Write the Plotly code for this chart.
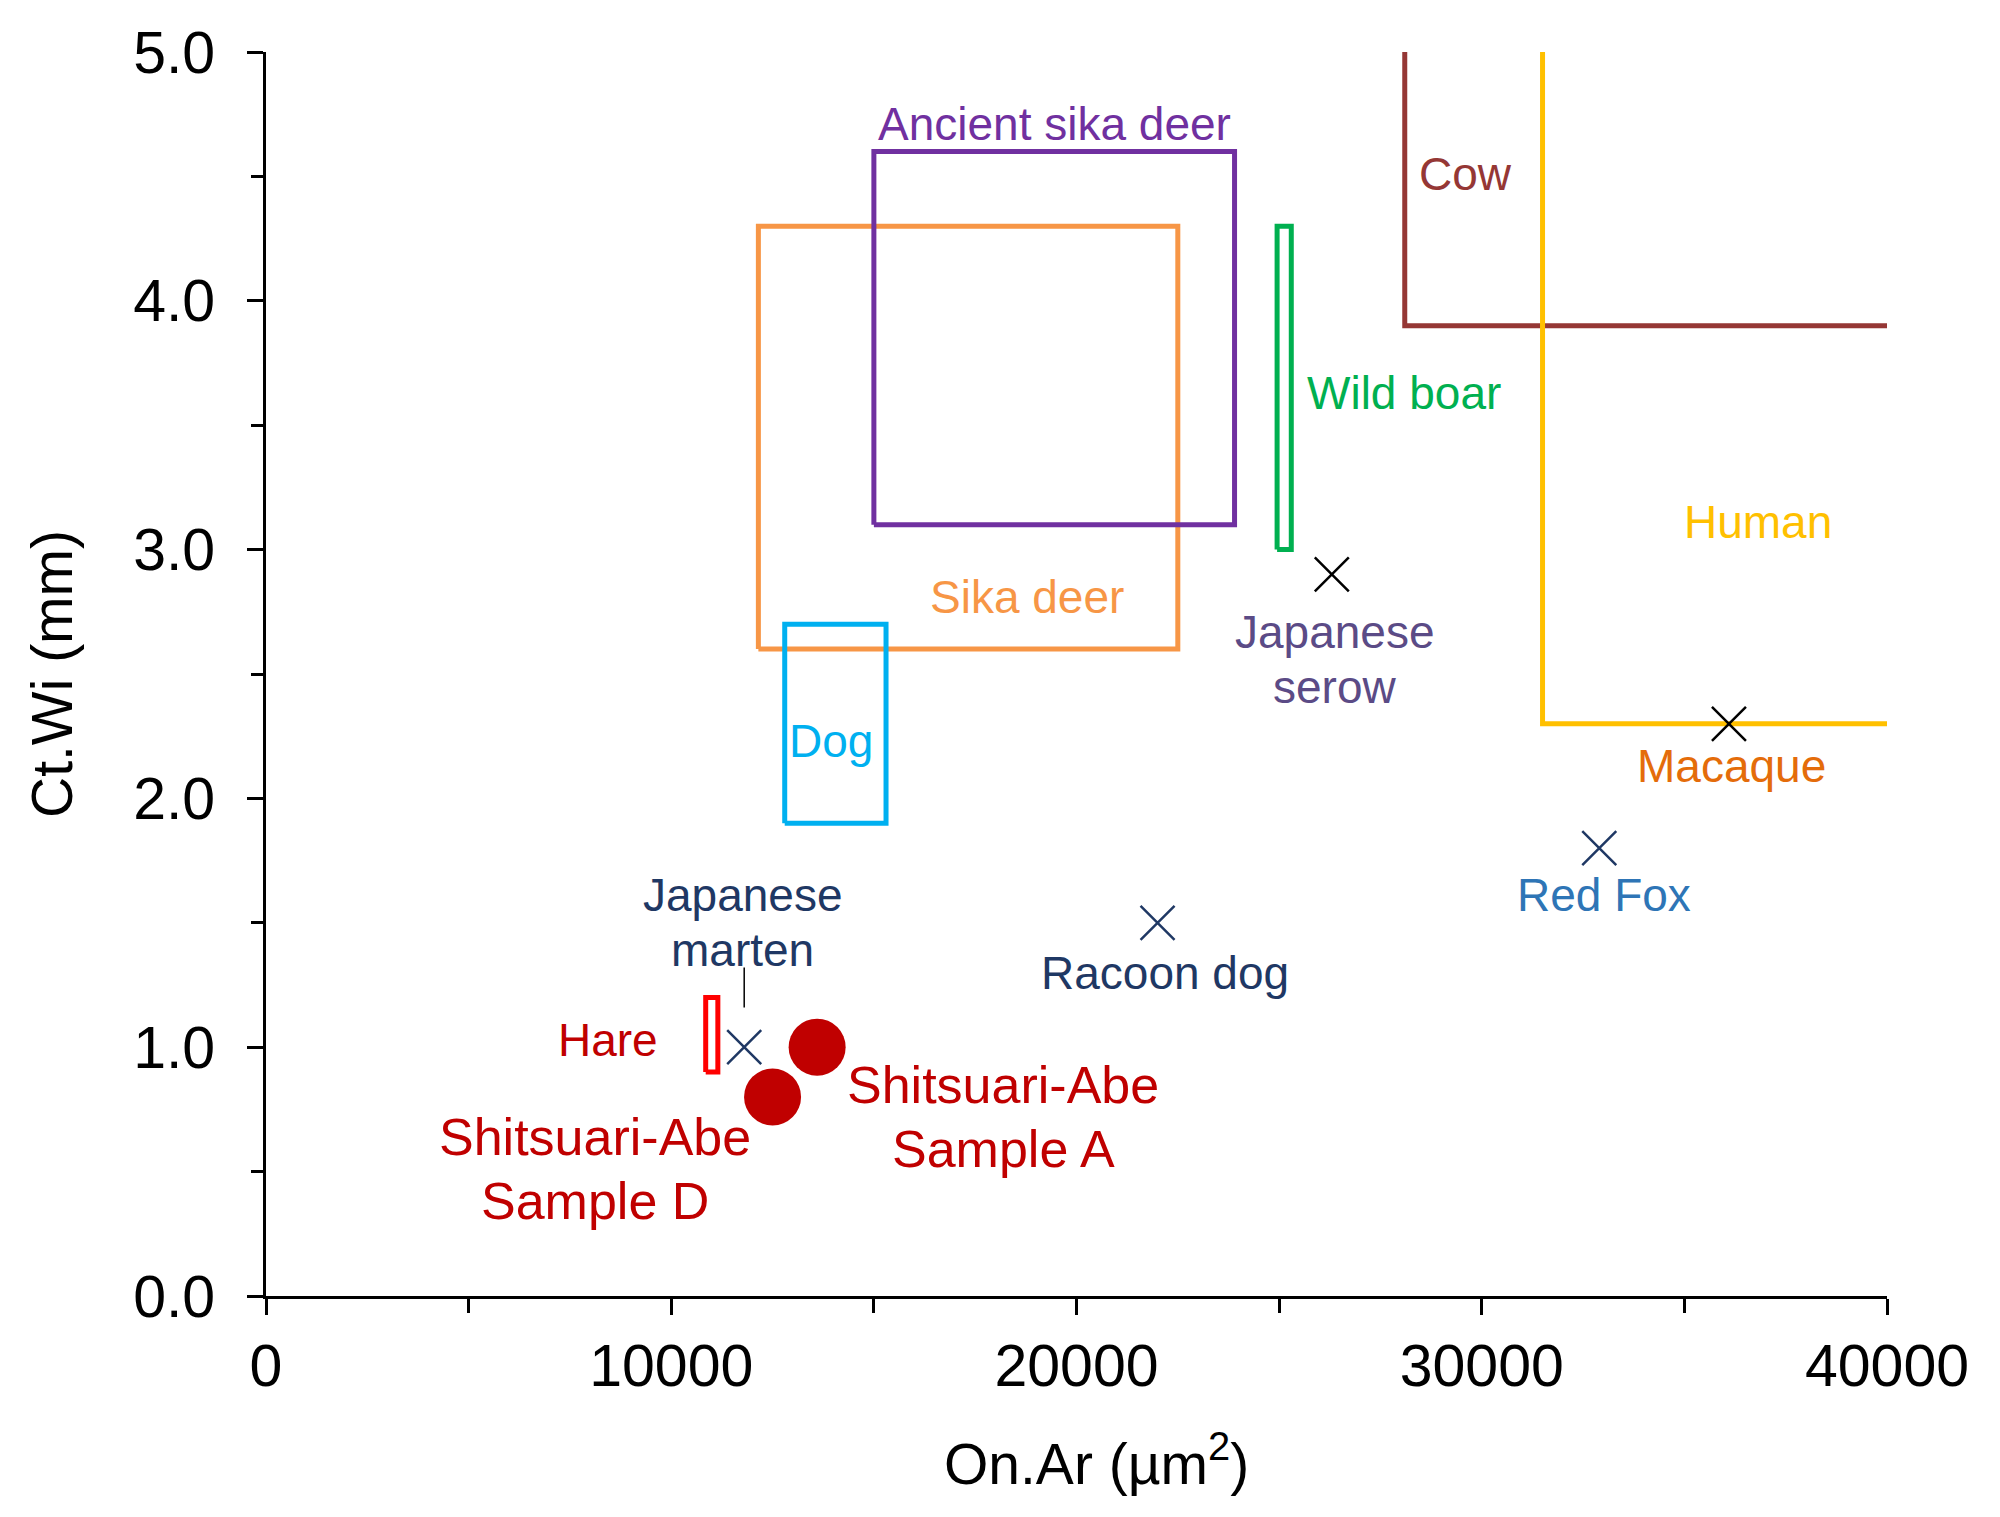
import plotly.graph_objects as go

# ---------------- data ----------------
# rectangular ranges: name, x0, x1, y0, y1
box_names = ["Sika deer", "Ancient sika deer", "Wild boar", "Dog", "Hare"]
box_x0 = [12150, 15000, 24950, 12800, 10850]
box_x1 = [22500, 23900, 25300, 15300, 11150]
box_y0 = [2.6, 3.1, 3.0, 1.9, 0.9]
box_y1 = [4.3, 4.6, 4.3, 2.7, 1.2]

# open-ended ranges (extend to axis limits): name, x_min, y_min
open_names = ["Cow", "Human"]
open_xmin = [28100, 31500]
open_ymin = [3.9, 2.3]

# single species values (x marks)
pt_names = ["Japanese serow", "Macaque", "Red Fox", "Racoon dog", "Japanese marten"]
pt_x = [26300, 36100, 32900, 22000, 11800]
pt_y = [2.9, 2.3, 1.8, 1.5, 1.0]

# Shitsuari-Abe samples
smp_names = ["Sample A", "Sample D"]
smp_x = [13600, 12500]
smp_y = [1.0, 0.8]

x_range = [0, 40000]
y_range = [0, 5]
x_ticks = [0, 10000, 20000, 30000, 40000]
y_ticks = [0.0, 1.0, 2.0, 3.0, 4.0, 5.0]

# ---------------- styles ----------------
box_colors = ["#F79646", "#7030A0", "#00B050", "#00B0F0", "#FF0000"]
open_colors = ["#953735", "#FFC000"]
pt_colors = ["#000000", "#000000", "#1F3864", "#1F3864", "#1F3864"]

FONT = "Liberation Sans, Arial, sans-serif"

fig = go.Figure()

for i, n in enumerate(box_names):
    fig.add_trace(go.Scatter(
        x=[box_x0[i], box_x1[i], box_x1[i], box_x0[i], box_x0[i]],
        y=[box_y0[i], box_y0[i], box_y1[i], box_y1[i], box_y0[i]],
        mode="lines", line=dict(color=box_colors[i], width=5),
        name=n, showlegend=False, cliponaxis=False, hoverinfo="skip"))

for i, n in enumerate(open_names):
    fig.add_trace(go.Scatter(
        x=[open_xmin[i], open_xmin[i], x_range[1]],
        y=[y_range[1], open_ymin[i], open_ymin[i]],
        mode="lines", line=dict(color=open_colors[i], width=5),
        name=n, showlegend=False, cliponaxis=False, hoverinfo="skip"))

fig.add_trace(go.Scatter(
    x=pt_x, y=pt_y, mode="markers",
    marker=dict(symbol="x-thin", size=34, color=pt_colors,
                line=dict(width=2.5, color=pt_colors)),
    showlegend=False, cliponaxis=False, hoverinfo="skip"))

fig.add_trace(go.Scatter(
    x=smp_x, y=smp_y, mode="markers",
    marker=dict(symbol="circle", size=57, color="#C00000", line=dict(width=0)),
    showlegend=False, cliponaxis=False, hoverinfo="skip"))

# leader line for Japanese marten label
fig.add_trace(go.Scatter(
    x=[pt_x[4], pt_x[4]], y=[1.16, 1.32], mode="lines",
    line=dict(color="#000000", width=1.5),
    showlegend=False, hoverinfo="skip"))

# ---------------- labels ----------------
labels = [
    # lines, x, y, color, xanchor, size, line spacing (px)
    (["Ancient sika deer"], 19450, 4.71, "#7030A0", "center", 46, 0),
    (["Sika deer"], 18790, 2.81, "#F79646", "center", 46, 0),
    (["Wild boar"], 25650, 3.63, "#00B050", "left", 46, 0),
    (["Dog"], 13940, 2.23, "#00B0F0", "center", 46, 0),
    (["Hare"], 9725, 1.03, "#C00000", "right", 46, 0),
    (["Cow"], 28400, 4.51, "#953735", "left", 46, 0),
    (["Human"], 36820, 3.11, "#FFC000", "center", 46, 0),
    (["Macaque"], 36160, 2.13, "#E46C0A", "center", 46, 0),
    (["Red Fox"], 33010, 1.61, "#2E75B6", "center", 46, 0),
    (["Racoon dog"], 22190, 1.30, "#1F3864", "center", 46, 0),
    (["Japanese", "marten"], 11770, 1.50, "#1F3864", "center", 46, 55),
    (["Japanese", "serow"], 26370, 2.56, "#5B4B86", "center", 46, 55),
    (["Shitsuari-Abe", "Sample A"], 18190, 0.72, "#C00000", "center", 52, 64),
    (["Shitsuari-Abe", "Sample D"], 8120, 0.51, "#C00000", "center", 52, 64),
]
for lines, x, y, c, xa, sz, gap in labels:
    n = len(lines)
    for k, t in enumerate(lines):
        off = ((n - 1) / 2 - k) * gap
        fig.add_annotation(x=x, y=y, xref="x", yref="y", text=t, showarrow=False,
                           xanchor=xa, yanchor="middle", yshift=off,
                           font=dict(family=FONT, size=sz, color=c))

# axis titles
fig.add_annotation(x=0.5, y=0, xref="paper", yref="paper", yshift=-164, xshift=20,
                   text="On.Ar (µm<sup>2</sup>)", showarrow=False,
                   xanchor="center", yanchor="middle",
                   font=dict(family=FONT, size=57, color="#000000"))
fig.add_annotation(x=0, y=0.5, xref="paper", yref="paper", xshift=-214,
                   text="Ct.Wi (mm)", showarrow=False, textangle=-90,
                   xanchor="center", yanchor="middle",
                   font=dict(family=FONT, size=57, color="#000000"))

axis_common = dict(showgrid=False, zeroline=False, showline=True,
                   linecolor="#000000", linewidth=3, ticks="outside",
                   tickcolor="#000000", tickwidth=3, ticklen=16,
                   tickfont=dict(family=FONT, size=59, color="#000000"))

fig.update_xaxes(range=x_range, tickvals=x_ticks, tickformat="d",
                 ticklabelstandoff=0,
                 minor=dict(ticks="outside", dtick=5000, ticklen=14,
                            tickwidth=3, tickcolor="#000000"),
                 **axis_common)
fig.update_yaxes(range=y_range, tickvals=y_ticks, tickformat=".1f",
                 ticklabelstandoff=20,
                 minor=dict(ticks="outside", dtick=0.5, ticklen=12,
                            tickwidth=3, tickcolor="#000000"),
                 **axis_common)

fig.update_layout(width=2000, height=1517,
                  margin=dict(l=258, r=121, t=34, b=229),
                  plot_bgcolor="#FFFFFF", paper_bgcolor="#FFFFFF",
                  showlegend=False)

fig.write_html("out.html")
